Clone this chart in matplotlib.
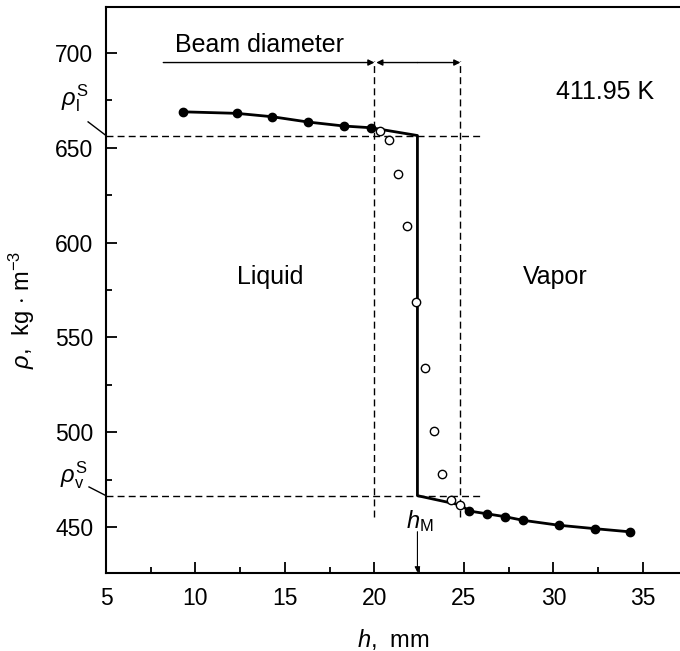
import numpy as np
import matplotlib
matplotlib.use('Agg')
import matplotlib.pyplot as plt

# Data
# filled points (measured liquid / vapor densities)
liq_h = [9.3, 12.3, 14.3, 16.3, 18.3, 19.8]
liq_rho = [669.0, 668.2, 666.4, 663.6, 661.5, 660.6]
vap_h = [25.3, 26.3, 27.3, 28.3, 30.3, 32.3, 34.3]
vap_rho = [458.4, 456.9, 455.4, 453.5, 450.9, 449.1, 447.4]
# open points (inside the beam)
beam_h = [20.3, 20.8, 21.3, 21.8, 22.3, 22.8, 23.3, 23.8, 24.3, 24.8]
beam_rho = [659.0, 654.1, 636.2, 608.8, 568.5, 534.0, 500.6, 478.1, 464.2, 461.8]
# saturation values and meniscus position
h_M = 22.4
rho_l_s = 656.5
rho_v_s = 466.5
beam_left = 20.0
beam_right = 24.8

plt.rcParams['font.family'] = ['Liberation Sans', 'DejaVu Sans']
plt.rcParams['mathtext.fontset'] = 'custom'
plt.rcParams['mathtext.rm'] = 'Liberation Sans'
plt.rcParams['mathtext.it'] = 'Liberation Sans:italic'
plt.rcParams['font.size'] = 16

fig = plt.figure(figsize=(6.8, 6.51), dpi=100)
ax = fig.add_axes([106 / 680, 1 - 573 / 651, 1 - 106 / 680, (573 - 7) / 651])

# fitted profile: liquid branch, jump at h_M, vapor branch
fit_h = liq_h + [h_M, h_M, 24.8] + vap_h
fit_rho = liq_rho + [rho_l_s, rho_v_s, 461.6] + vap_rho
ax.plot(fit_h, fit_rho, color='k', lw=2, zorder=3)

ax.plot(liq_h, liq_rho, 'o', color='k', ms=6, zorder=4)
ax.plot(vap_h, vap_rho, 'o', color='k', ms=6, zorder=4)
ax.plot(beam_h, beam_rho, 'o', mfc='white', mec='k', mew=1, ms=6, zorder=5)

# dashed guide lines
dash = dict(color='k', lw=1, dashes=(5, 3))
ax.plot([5, 26.0], [rho_l_s, rho_l_s], **dash)
ax.plot([5, 26.0], [rho_v_s, rho_v_s], **dash)
ax.plot([beam_left, beam_left], [455.4, 696], **dash)
ax.plot([beam_right, beam_right], [455.4, 696], **dash)

# beam diameter arrows
arr = dict(arrowstyle='-|>', lw=1, color='k', mutation_scale=9, shrinkA=0, shrinkB=0)
ax.annotate('', xy=(beam_left, 695), xytext=(8.2, 695), arrowprops=arr)
ax.annotate('', xy=(beam_left + 0.1, 695), xytext=(22.4, 695), arrowprops=arr)
ax.annotate('', xy=(beam_right, 695), xytext=(22.4, 695), arrowprops=arr)
ax.text(13.55, 704.5, 'Beam diameter', ha='center', va='center', fontsize=18)

ax.text(32.9, 679.4, '411.95 K', ha='center', va='center', fontsize=18)
ax.text(14.2, 582, 'Liquid', ha='center', va='center', fontsize=18)
ax.text(30.1, 582, 'Vapor', ha='center', va='center', fontsize=18)

# h_M marker
ax.text(22.55, 453, r'$h_{\rm M}$', ha='center', va='center', fontsize=17)
ax.annotate('', xy=(h_M, 426), xytext=(h_M, 447.5),
            arrowprops=dict(arrowstyle='-|>', lw=0.8, color='k', mutation_scale=8,
                            shrinkA=0, shrinkB=0))

# saturation labels left of the axis
ax.text(3.25, 676, r'$\rho_{\rm l}^{\rm S}$', ha='center', va='center', fontsize=17, clip_on=False)
ax.plot([4.0, 5.0], [663.7, rho_l_s], color='k', lw=1, clip_on=False)
ax.text(3.2, 477.5, r'$\rho_{\rm v}^{\rm S}$', ha='center', va='center', fontsize=17, clip_on=False)
ax.plot([4.05, 5.0], [471.1, rho_v_s], color='k', lw=1, clip_on=False)

ax.set_xlim(5, 37.07)
ax.set_ylim(425.7, 724.3)
ax.set_xticks([5, 10, 15, 20, 25, 30, 35])
ax.set_xticks(np.arange(7.5, 37, 5), minor=True)
ax.set_yticks([450, 500, 550, 600, 650, 700])
ax.set_yticks(np.arange(475, 725, 50), minor=True)
ax.tick_params(which='both', direction='in', width=1.3, labelsize=16.5)
ax.tick_params(which='major', length=8)
ax.tick_params(which='minor', length=4)
ax.tick_params(axis='y', pad=9)
ax.tick_params(axis='x', pad=10)
ax.spines['right'].set_visible(False)
for s in ['left', 'bottom', 'top']:
    ax.spines[s].set_linewidth(1.5)

ax.set_xlabel(r'$h$,  mm', fontsize=17, labelpad=12)
ax.set_ylabel(r'$\rho$,  kg $\cdot$ m$^{-3}$', fontsize=17)
ax.yaxis.set_label_coords(-0.12, 0.465)

fig.savefig('out.png', dpi=100)
